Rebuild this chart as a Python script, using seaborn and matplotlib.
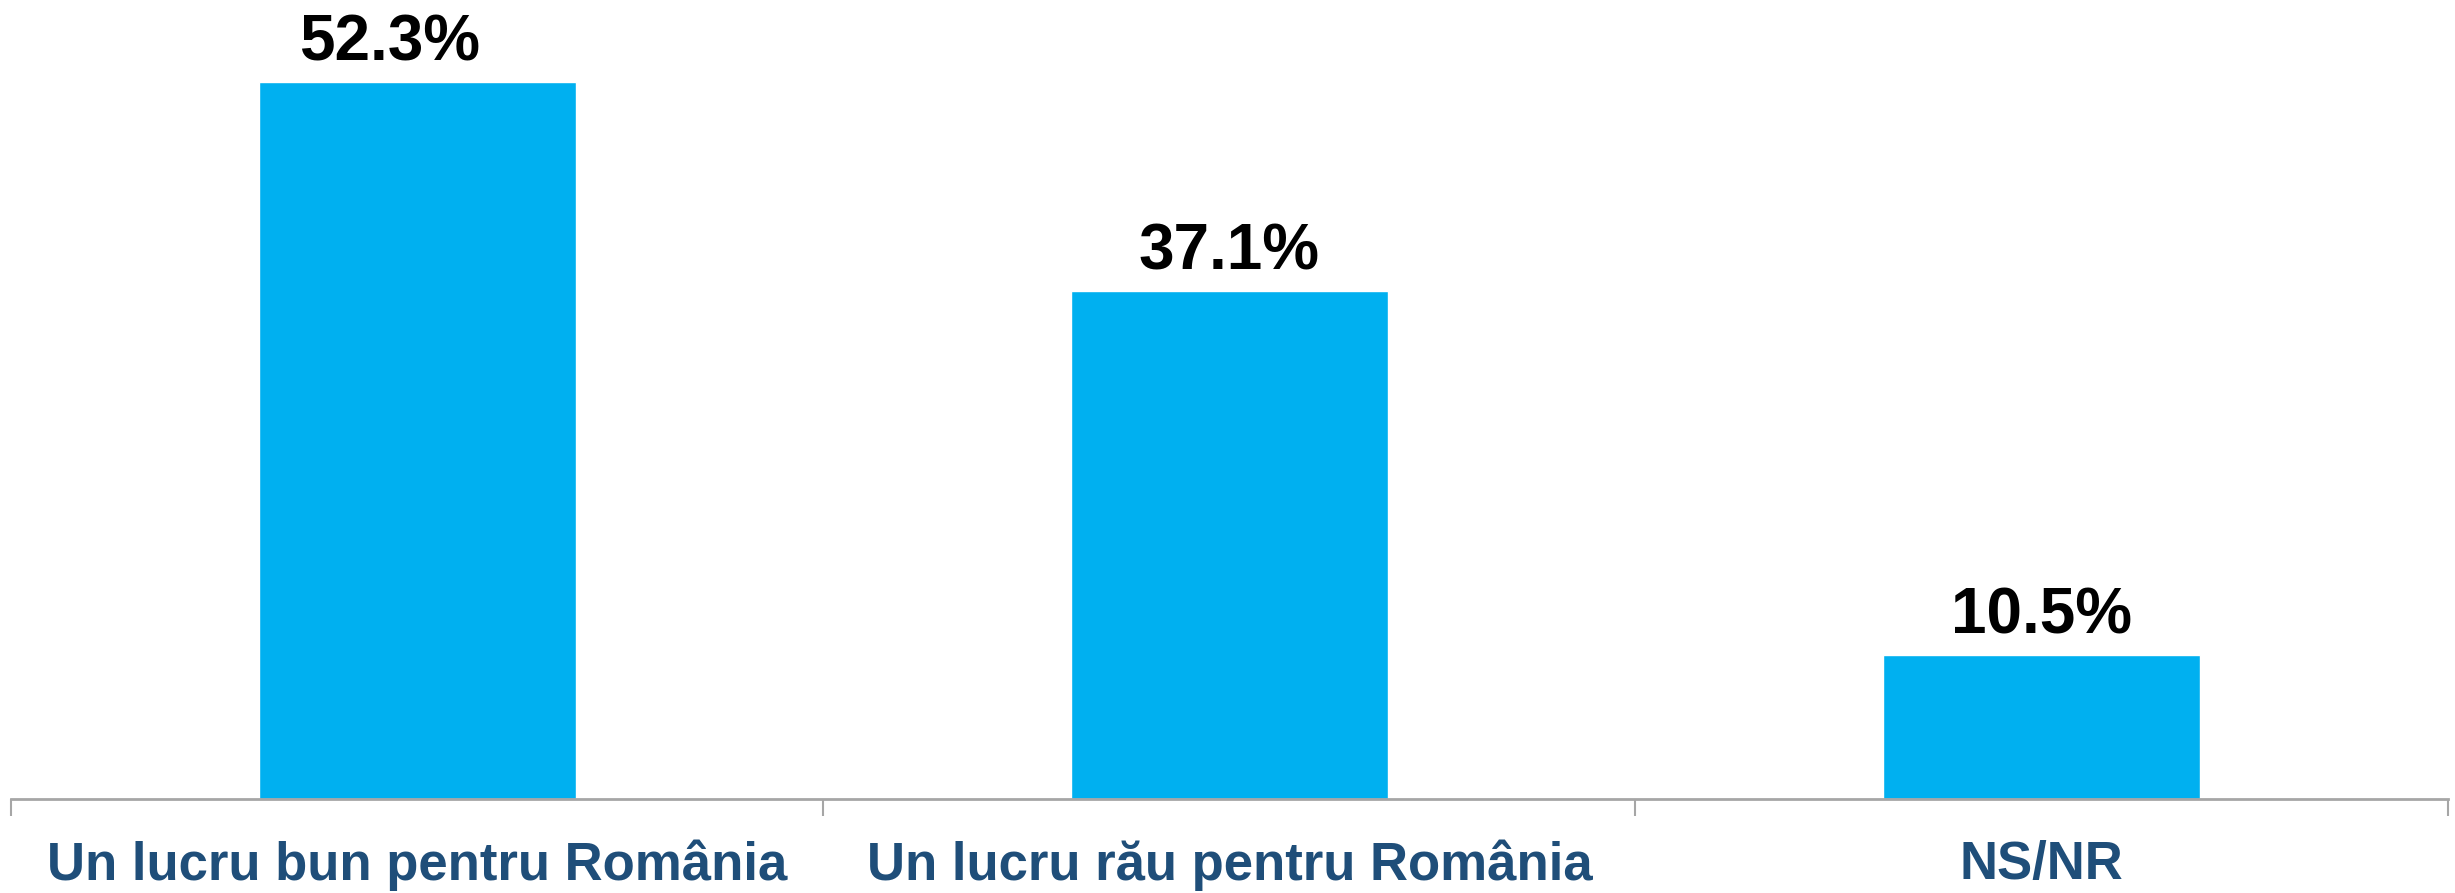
import pandas as pd
import seaborn as sns
import matplotlib.pyplot as plt

categories = ['Un lucru bun pentru România', 'Un lucru rău pentru România', 'NS/NR']
values = [52.3, 37.1, 10.5]
value_labels = ['52.3%', '37.1%', '10.5%']

df = pd.DataFrame({'raspuns': categories, 'procent': values})

sns.set_style('white')
plt.rcParams['font.family'] = ['Liberation Sans', 'DejaVu Sans']

fig = plt.figure(figsize=(24.55, 8.93), dpi=100)
ax = fig.add_axes([0.0045, 0.105, 0.9925, 0.895])
sns.barplot(data=df, x='raspuns', y='procent', color='#00B0F0', width=0.39,
            saturation=1, ax=ax)

ax.set_xlim(-0.5, 2.5)
ax.set_ylim(0, 58.3)
anns = ax.bar_label(ax.containers[0], labels=value_labels, padding=6,
                    fontsize=46, fontweight='bold', color='black')
# first label sits a bit left of its bar in the original
anns[0].xyann = (-20, 6)

for side in ['top', 'right', 'left']:
    ax.spines[side].set_visible(False)
ax.spines['bottom'].set_color('#A6A6A6')
ax.spines['bottom'].set_linewidth(2)
ax.set_yticks([])
ax.set_xlabel('')
ax.set_ylabel('')
ax.set_xticks([-0.5, 0.5, 1.5, 2.5], minor=True)
ax.tick_params(axis='x', which='minor', length=12, width=1.5, color='#A6A6A6',
               direction='out', bottom=True)
ax.tick_params(axis='x', which='major', length=0, pad=29)
for lbl in ax.get_xticklabels():
    lbl.set_fontsize(38)
    lbl.set_fontweight('bold')
    lbl.set_color('#1F4E79')

fig.savefig('out.png', dpi=100)
